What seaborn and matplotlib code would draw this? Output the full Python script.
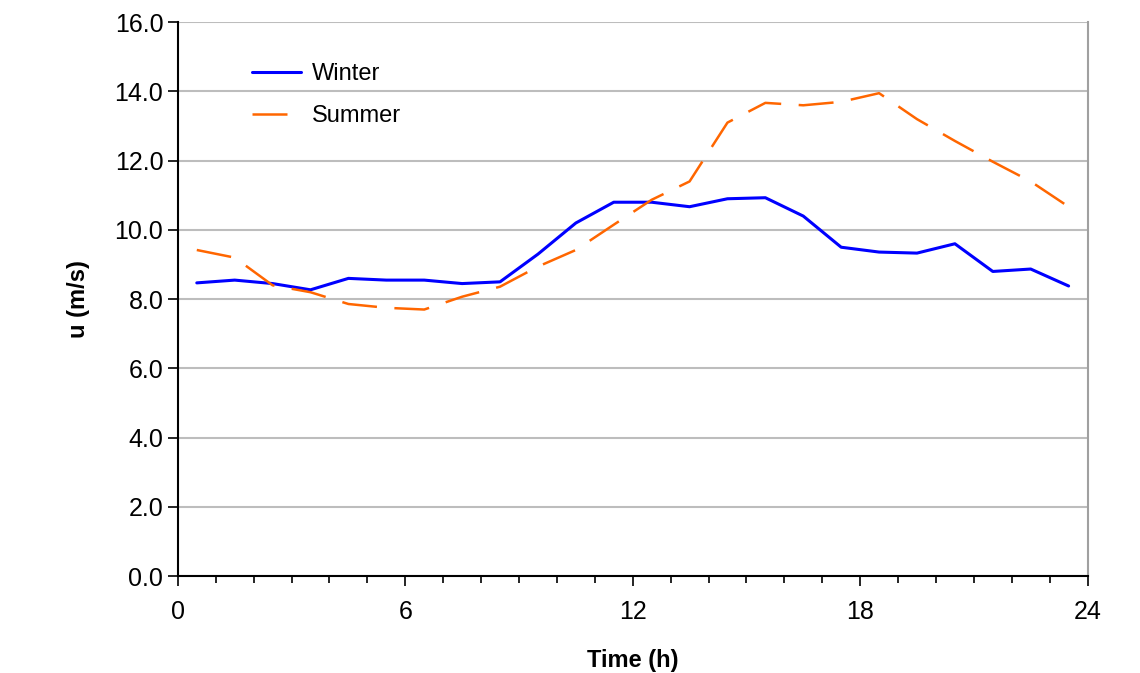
import numpy as np
import pandas as pd
import seaborn as sns
import matplotlib.pyplot as plt
from matplotlib.ticker import MultipleLocator

# hourly values (mid-hour)
hours = [0.5, 1.5, 2.5, 3.5, 4.5, 5.5, 6.5, 7.5, 8.5, 9.5, 10.5, 11.5,
         12.5, 13.5, 14.5, 15.5, 16.5, 17.5, 18.5, 19.5, 20.5, 21.5, 22.5, 23.5]
winter = [8.47, 8.55, 8.45, 8.27, 8.6, 8.55, 8.55, 8.45, 8.5, 9.3, 10.2, 10.8,
          10.8, 10.67, 10.9, 10.93, 10.4, 9.5, 9.36, 9.33, 9.6, 8.8, 8.87, 8.38]
summer = [9.42, 9.2, 8.4, 8.2, 7.86, 7.75, 7.7, 8.07, 8.36, 8.94, 9.42, 10.15,
          10.87, 11.4, 13.1, 13.67, 13.6, 13.7, 13.95, 13.2, 12.57, 11.97, 11.4, 10.67]

df = pd.DataFrame({"Time": hours + hours,
                   "u": winter + summer,
                   "Season": ["Winter"] * len(hours) + ["Summer"] * len(hours)})

sns.set_style("white")
plt.rcParams["font.family"] = ["Liberation Sans", "DejaVu Sans"]
plt.rcParams["text.color"] = "black"
plt.rcParams["axes.labelcolor"] = "black"

fig = plt.figure(figsize=(11.4, 6.73), dpi=100)
ax = fig.add_axes([0.156, 0.144, 0.798, 0.823])

sns.lineplot(data=df, x="Time", y="u", hue="Season", style="Season",
             palette={"Winter": "#0000ff", "Summer": "#ff6600"},
             dashes={"Winter": "", "Summer": (14, 7)},
             ax=ax)
for line in ax.lines:
    if line.get_color() == "#ff6600":
        line.set_linewidth(1.8)
    else:
        line.set_linewidth(2.2)

ax.set_xlim(0, 24)
ax.set_ylim(0, 16)
ax.xaxis.set_major_locator(MultipleLocator(6))
ax.xaxis.set_minor_locator(MultipleLocator(1))
ax.yaxis.set_major_locator(MultipleLocator(2))
ax.set_yticklabels([f"{v:.1f}" for v in ax.get_yticks()])
ax.yaxis.grid(True, color="#bdbdbd", linewidth=1.5)
ax.set_axisbelow(True)

ax.tick_params(axis="both", which="major", direction="out", length=7, width=1.2,
               labelsize=18, colors="black", bottom=True, left=True)
ax.tick_params(axis="x", which="minor", direction="out", length=5, width=1.2,
               bottom=True, colors="black")
ax.tick_params(axis="x", which="major", pad=10)
for s in ["left", "bottom"]:
    ax.spines[s].set_color("black")
    ax.spines[s].set_linewidth(1.5)
ax.spines["right"].set_color("#a0a0a0")
ax.spines["right"].set_linewidth(1.5)
ax.spines["top"].set_visible(False)

ax.set_xlabel("Time (h)", fontsize=17, fontweight="bold", labelpad=18)
ax.set_ylabel("u (m/s)", fontsize=17, fontweight="bold", labelpad=18)

leg = ax.legend(title=None, loc="upper left", bbox_to_anchor=(0.058, 0.965),
                frameon=False, fontsize=17, handlelength=2.1, handletextpad=0.45,
                labelspacing=0.85)
for t in leg.get_texts():
    t.set_color("black")

fig.savefig("out.png", dpi=100)
